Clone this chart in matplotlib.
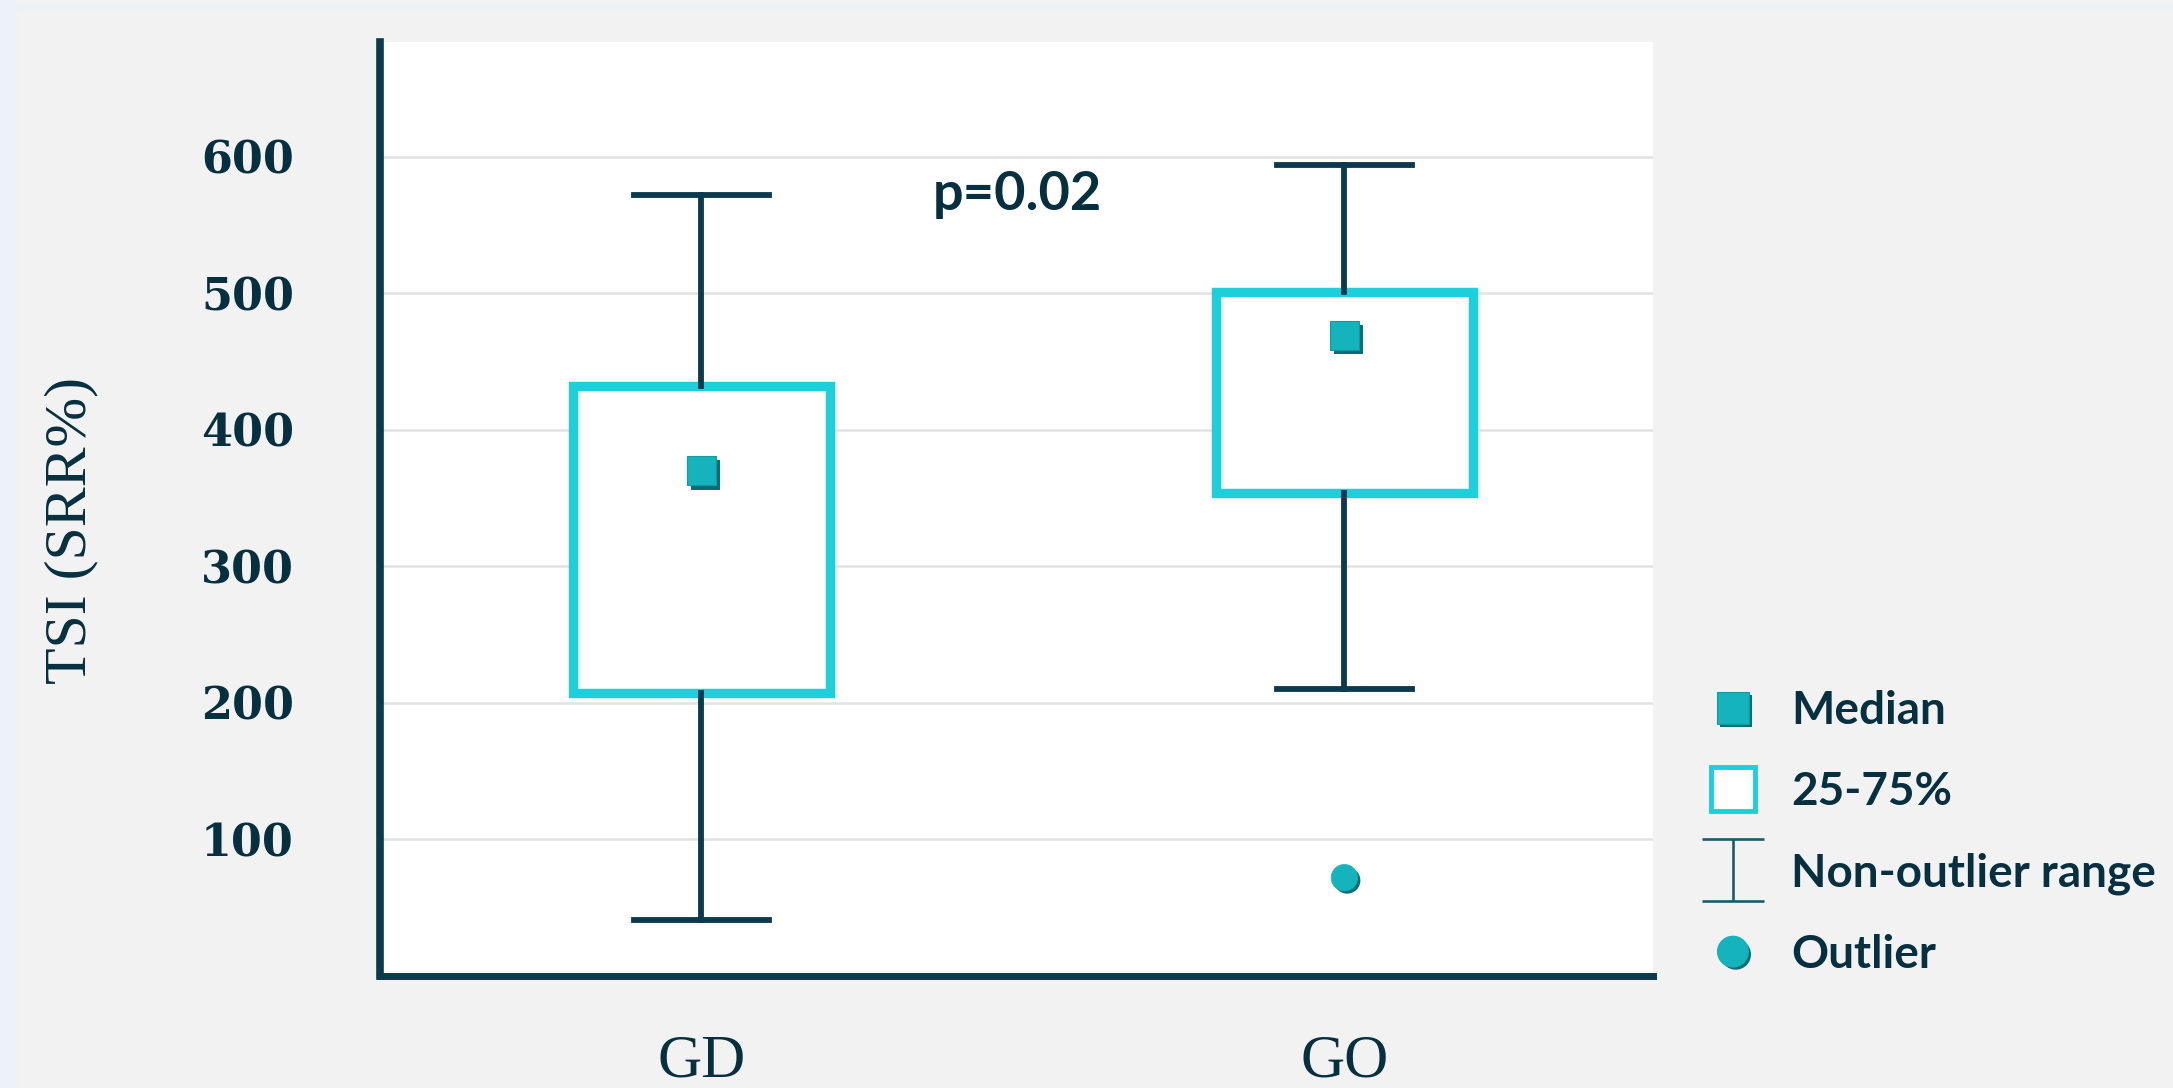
import matplotlib
matplotlib.use('Agg')
import matplotlib.pyplot as plt
import matplotlib.patheffects as pe
from matplotlib.lines import Line2D
from matplotlib.path import Path
from matplotlib.patches import Rectangle

# 数据
groups = ['GD', 'GO']
medians = [370, 469]
q1 = [207, 354]
q3 = [432, 501]
whis_low = [41, 210]
whis_high = [572, 594]
outliers = [[], [72]]
y_ticks = [100, 200, 300, 400, 500, 600]
p_text = 'p=0.02'

# 颜色
NAVY = '#0b3a4e'
TEXT = '#06303f'
CYAN = '#1dcfdb'
TEAL = '#15b3bc'
TEAL_DARK = '#0b6e74'
BG = '#f2f2f2'

W, H = 2173, 1088
fig = plt.figure(figsize=(W / 100, H / 100), dpi=100, facecolor=BG)
# 左侧与顶部的浅蓝色细条
fig.patches.append(Rectangle((0, 0), 16 / W, 1, transform=fig.transFigure, color='#edf1f8', zorder=0))
fig.patches.append(Rectangle((0, 1 - 9 / H), 1, 4 / H, transform=fig.transFigure, color='#edf1f8', zorder=0))

ax = fig.add_axes([380 / W, 1 - 976 / H, (1653 - 380) / W, (976 - 42) / H])
ax.set_facecolor('white')

stats = []
for i, g in enumerate(groups):
    stats.append(dict(label=g, med=medians[i], q1=q1[i], q3=q3[i],
                      whislo=whis_low[i], whishi=whis_high[i], fliers=outliers[i]))

positions = list(range(len(groups)))
ax.bxp(stats, positions=positions, widths=0.4, capwidths=0.21, patch_artist=True,
       showfliers=True,
       boxprops=dict(facecolor='white', edgecolor=CYAN, linewidth=6.8),
       whiskerprops=dict(color=NAVY, linewidth=4.2),
       capprops=dict(color=NAVY, linewidth=4.2),
       medianprops=dict(linestyle='none', linewidth=0),
       flierprops=dict(marker='o', markersize=19, markerfacecolor=TEAL,
                       markeredgecolor=TEAL, markeredgewidth=0.5,
                       path_effects=[pe.SimplePatchShadow(offset=(2, -2), shadow_rgbFace=TEAL_DARK, alpha=1),
                                     pe.Normal()]),
       zorder=3)

# 中位数方块（带阴影）
ax.plot(positions, medians, linestyle='none', marker='s', markersize=21,
        markerfacecolor=TEAL, markeredgecolor='#119aa3', markeredgewidth=0.8, zorder=5,
        path_effects=[pe.SimplePatchShadow(offset=(3, -3), shadow_rgbFace=TEAL_DARK, alpha=1), pe.Normal()])

ax.set_xlim(-0.5, 1.48)
ax.set_ylim(0, 684)
ax.set_yticks(y_ticks)
ax.set_xticks(positions)
ax.set_xticklabels(groups)

ax.yaxis.grid(True, color='#e2e2e2', linewidth=1.8, zorder=0)
ax.set_axisbelow(True)

for s in ['top', 'right']:
    ax.spines[s].set_visible(False)
ax.spines['left'].set_linewidth(5.5)
ax.spines['bottom'].set_linewidth(5)
ax.spines['left'].set_color(NAVY)
ax.spines['bottom'].set_color(NAVY)

ax.tick_params(axis='y', length=0, pad=62, labelcolor=TEXT)
ax.tick_params(axis='x', length=0, pad=42, labelcolor=TEXT)
for lab in ax.get_yticklabels():
    lab.set_fontfamily('DejaVu Serif')
    lab.set_fontweight('bold')
    lab.set_fontsize(32)
for lab in ax.get_xticklabels():
    lab.set_fontfamily('Liberation Serif')
    lab.set_fontsize(44)

ax.set_ylabel('TSI (SRR%)', fontfamily='Liberation Serif', fontsize=43, color=TEXT)
ax.yaxis.set_label_coords(-0.2215, 0.4775)

ax.text(0.491, 572, p_text, ha='center', va='center', fontfamily='Lato',
        fontweight='bold', fontsize=39, color=TEXT)

# 图例
ibeam = Path([(-1, 1), (1, 1), (0, 1), (0, -1), (-1, -1), (1, -1)],
             [Path.MOVETO, Path.LINETO, Path.MOVETO, Path.LINETO, Path.MOVETO, Path.LINETO])
handles = [
    Line2D([], [], linestyle='none', marker='s', markersize=23, markerfacecolor=TEAL,
           markeredgecolor='#119aa3', markeredgewidth=0.8,
           path_effects=[pe.SimplePatchShadow(offset=(2, -2), shadow_rgbFace=TEAL_DARK, alpha=1), pe.Normal()]),
    Line2D([], [], linestyle='none', marker='s', markersize=32, markerfacecolor='white',
           markeredgecolor=CYAN, markeredgewidth=3.5),
    Line2D([], [], linestyle='none', marker=ibeam, markersize=44, markerfacecolor='none',
           markeredgecolor='#1b5b6e', markeredgewidth=1.9),
    Line2D([], [], linestyle='none', marker='o', markersize=22, markerfacecolor=TEAL,
           markeredgecolor=TEAL,
           path_effects=[pe.SimplePatchShadow(offset=(2, -2), shadow_rgbFace=TEAL_DARK, alpha=1), pe.Normal()]),
]
labels = ['Median', '25-75%', 'Non-outlier range', 'Outlier']
leg = fig.legend(handles, labels, loc='center left', bbox_to_anchor=(1702 / W, 1 - 833 / H),
                 bbox_transform=fig.transFigure, frameon=False, borderpad=0, borderaxespad=0,
                 handlelength=1.35, handletextpad=0.6, labelspacing=0.85,
                 prop=dict(family='Lato', weight='bold', size=33))
for t in leg.get_texts():
    t.set_color(TEXT)

fig.savefig('out.png', dpi=100, facecolor=BG)
